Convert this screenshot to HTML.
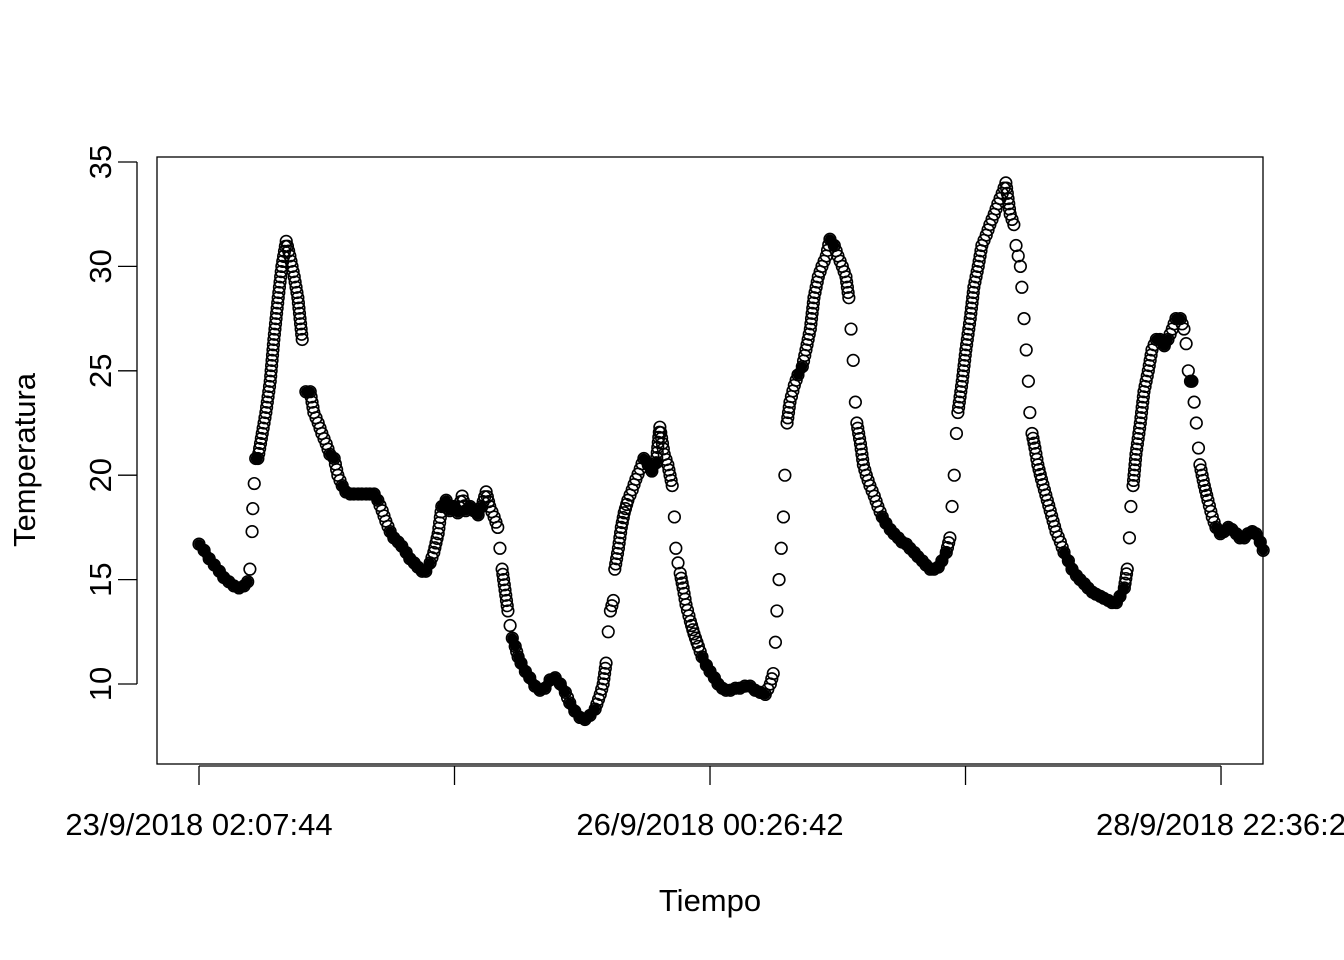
<!DOCTYPE html>
<html><head><meta charset="utf-8"><style>
html,body{margin:0;padding:0;background:#fff;}
svg{display:block;font-family:"Liberation Sans",Arial,sans-serif;}
</style></head><body>
<svg id="chart" width="1344" height="960" viewBox="0 0 1344 960">
<rect x="157" y="157" width="1106" height="607" fill="none" stroke="#000" stroke-width="1.3"/>
<g id="band"></g>
<g id="pts"></g>
<g id="axes"></g>
<text x="710" y="911" font-size="31" text-anchor="middle">Tiempo</text>
<text transform="translate(35,460) rotate(-90)" font-size="31" text-anchor="middle">Temperatura</text>
</svg>
<script>
const hours=[0,0.7,1.4,2.1,2.8,3.4,4.1,4.8,5.5,6.2,6.7,7.0,7.3,7.4,7.6,7.8,8.1,8.7,9.2,9.8,10.3,10.9,11.4,12.0,12.5,13.1,13.6,14.2,14.7,15.3,15.8,16.4,16.9,17.5,18.0,18.6,19.1,19.7,20.2,20.8,21.3,21.9,22.4,23.0,23.5,24.1,24.6,25.2,25.7,26.3,26.8,27.4,27.9,28.5,29.0,29.6,30.1,30.7,31.2,31.8,32.3,32.9,33.4,34.0,34.5,35.1,35.6,36.2,36.7,37.3,37.8,38.4,38.9,39.5,40.0,40.6,41.1,41.4,41.7,42.1,42.5,42.8,43.1,43.5,43.9,44.3,44.9,45.5,46.2,46.9,47.6,48.3,49.0,49.7,50.4,51.0,51.7,52.4,53.1,53.8,54.5,55.2,55.6,56.0,56.3,56.6,57.0,57.2,57.7,58.1,58.5,59.0,59.6,60.1,60.7,61.2,61.8,62.3,62.9,63.4,64.0,64.5,65.1,65.4,65.6,65.9,66.2,66.6,67.0,67.6,68.1,68.7,69.2,69.8,70.3,70.9,71.4,72.0,72.5,73.1,73.8,74.4,75.1,75.8,76.5,77.2,77.9,78.6,79.0,79.3,79.5,79.8,80.1,80.4,80.6,80.9,81.3,81.9,82.4,83.0,83.5,84.1,84.6,85.2,85.7,86.3,86.8,87.4,87.9,88.5,89.0,89.4,89.7,90.0,90.3,90.5,91.0,91.4,91.8,92.3,92.9,93.4,94.0,94.5,95.1,95.6,96.2,96.7,97.3,97.8,98.4,98.9,99.5,100.0,100.6,101.1,101.7,102.2,102.8,103.3,103.6,103.9,104.2,104.4,105.0,105.5,106.1,106.6,107.2,107.7,108.3,108.8,109.4,109.9,110.5,111.0,111.6,112.1,112.4,112.7,113.0,113.2,113.5,113.8,114.1,114.3,114.6,115.0,115.4,115.9,116.3,116.7,117.1,117.5,117.9,118.5,119.0,119.6,120.1,120.7,121.2,121.8,122.3,122.9,123.4,124.0,124.5,125.1,125.6,126.2,126.7,127.3,127.7,128.0,128.2,128.5,128.9,129.5,130.0,130.6,131.1,131.7,132.2,132.8,133.3,133.9,134.4,135.0,135.5,135.8,136.1,136.4,136.6,136.9,137.2,137.5,137.7,138.3,138.8,139.4,139.9,140.5,141.0,141.6,142.1,142.7,143.2,143.8,144.3,144.9,145.4,146.0,146.4];
const temps=[16.7,16.4,16.0,15.7,15.4,15.1,14.9,14.7,14.6,14.7,14.9,15.5,17.3,18.4,19.6,20.8,20.8,22,23,24.5,26.5,28.5,30,31.2,30.5,29.5,28.5,26.5,24,24,23,22.5,22,21.5,21,20.8,20,19.5,19.2,19.1,19.1,19.1,19.1,19.1,19.1,19.1,18.8,18.3,17.8,17.3,17.0,16.8,16.6,16.3,16.0,15.8,15.6,15.4,15.4,15.8,16.3,17.2,18.5,18.8,18.3,18.5,18.2,19.0,18.3,18.5,18.3,18.1,18.5,19.2,18.5,18.0,17.5,16.5,15.5,14.5,13.5,12.8,12.2,11.8,11.3,11.0,10.6,10.3,9.9,9.7,9.8,10.2,10.3,10.0,9.6,9.1,8.7,8.4,8.3,8.5,8.8,9.5,10.0,11.0,12.5,13.5,14.0,15.5,16.5,17.5,18.2,18.8,19.3,19.8,20.3,20.8,20.5,20.2,20.6,22.3,21.0,20.5,19.5,18.0,16.5,15.8,15.3,14.6,13.8,13.0,12.4,11.8,11.3,10.9,10.6,10.3,10.0,9.8,9.7,9.7,9.8,9.8,9.9,9.9,9.7,9.6,9.5,10.0,10.5,12.0,13.5,15.0,16.5,18.0,20.0,22.5,23.5,24.3,24.8,25.2,26.0,27.0,28.5,29.5,30.0,30.5,31.3,31.0,30.5,30.0,29.5,28.5,27.0,25.5,23.5,22.5,21.5,20.5,20.0,19.5,19.0,18.5,18.0,17.7,17.4,17.2,17.0,16.8,16.7,16.5,16.3,16.1,15.9,15.7,15.5,15.5,15.6,15.9,16.3,17.0,18.5,20.0,22.0,23.0,24.5,26.0,27.5,29.0,30.0,31.0,31.5,32.0,32.5,33.0,33.5,34.0,32.5,32.0,31.0,30.5,30.0,29.0,27.5,26.0,24.5,23.0,22.0,21.3,20.5,19.8,19.3,18.8,18.3,17.8,17.3,16.8,16.3,15.9,15.5,15.2,15.0,14.8,14.6,14.4,14.3,14.2,14.1,14.0,13.9,13.9,14.2,14.6,15.5,17.0,18.5,19.5,21.0,22.5,24.0,25.0,26.0,26.5,26.5,26.2,26.5,27.0,27.5,27.5,27.0,26.3,25.0,24.5,24.5,23.5,22.5,21.3,20.5,19.5,18.8,18.0,17.5,17.2,17.3,17.5,17.4,17.2,17.0,17.0,17.2,17.3,17.2,16.8,16.4];
const yTicks=[10,15,20,25,30,35];
const xTickHours=[0,35.15,70.3,105.45,140.6];
const xLabelHours=[0,70.3,140.6];
const xLabels=["23/9/2018 02:07:44","26/9/2018 00:26:42","28/9/2018 22:36:2"];
const NS="http://www.w3.org/2000/svg";
const xS=h=>199+h*7.269;
const yS=v=>684-(v-10)*20.88;
function mk(tag,attrs,parent){const e=document.createElementNS(NS,tag);for(const k in attrs)e.setAttribute(k,attrs[k]);parent.appendChild(e);return e;}
const band=document.getElementById('band');
for(let i=1;i<hours.length;i++){
  const x1=xS(hours[i-1]),y1=yS(temps[i-1]),x2=xS(hours[i]),y2=yS(temps[i]);
  const dy=Math.abs(y2-y1),dx=Math.abs(x2-x1);
  if(dy<=10){
    const s=mk('line',{x1:x1,y1:y1,x2:x2,y2:y2,stroke:'#000','stroke-width':10,'stroke-linecap':'round'},band);
    
    
  } else if(dy<=45 && dx>=2.8){
    const n=Math.round(dy/5);
    for(let k=1;k<n;k++){
      const f=k/n;
      const r=mk('circle',{cx:x1+(x2-x1)*f,cy:y1+(y2-y1)*f,r:5.8,fill:'none',stroke:'#000','stroke-width':1.6},band);
      
      
    }
  }
}
const pts=document.getElementById('pts');
hours.forEach((h,i)=>{
  const c=mk('circle',{cx:xS(h),cy:yS(temps[i]),r:5.8,fill:'none',stroke:'#000','stroke-width':1.6},pts);
  
  
});
const ax=document.getElementById('axes');
const yl=mk('line',{x1:137,x2:137,y1:yS(35),y2:yS(10),stroke:'#000','stroke-width':1.3},ax);


yTicks.forEach(v=>{
  const t=mk('line',{x1:118,x2:137,y1:yS(v),y2:yS(v),stroke:'#000','stroke-width':1.3},ax);
  
  
  const tx=mk('text',{transform:`translate(111,${yS(v)}) rotate(-90)`,'font-size':31,'text-anchor':'middle'},ax);
  tx.textContent=v;
  
  
});
const xl=mk('line',{x1:xS(0),x2:xS(140.6),y1:766,y2:766,stroke:'#000','stroke-width':1.3},ax);


xTickHours.forEach(h=>{
  const t=mk('line',{x1:xS(h),x2:xS(h),y1:766,y2:785,stroke:'#000','stroke-width':1.3},ax);
  
  
});
xLabelHours.forEach((h,i)=>{
  const tx=mk('text',{x:xS(h),y:835,'font-size':31,'text-anchor':'middle'},ax);
  tx.textContent=xLabels[i];
  
  
});
</script>
</body></html>
